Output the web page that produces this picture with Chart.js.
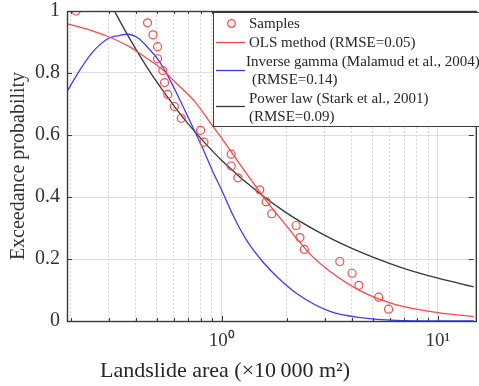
<!DOCTYPE html>
<html>
<head>
<meta charset="utf-8">
<script src="https://cdn.jsdelivr.net/npm/chart.js@4.4.1/dist/chart.umd.min.js"></script>
<style>
  html, body { margin: 0; padding: 0; background: #fff; }
</style>
</head>
<body>
<canvas id="ccdfChart" width="479" height="386"></canvas>
<script>
// landslide area (x 10 000 m2) and exceedance probability of the samples
const sampleArea = [0.212, 0.454, 0.481, 0.505, 0.505, 0.534, 0.544, 0.563, 0.604, 0.650, 0.798, 0.828, 1.106,
                    1.106, 1.187, 1.50, 1.605, 1.703, 2.207, 2.30, 2.41, 3.516, 4.007, 4.31, 5.32, 5.91];
const sampleProb = [1.000, 0.962, 0.923, 0.885, 0.846, 0.808, 0.769, 0.731, 0.692, 0.654, 0.615, 0.577, 0.538,
                    0.500, 0.462, 0.423, 0.385, 0.346, 0.308, 0.269, 0.231, 0.192, 0.154, 0.115, 0.077, 0.038];

// fitted curves
const olsArea = [0.19, 0.25, 0.30, 0.374, 0.42, 0.53, 0.61, 0.753, 0.912, 1.0, 1.088, 1.295, 1.598, 1.972, 2.23, 2.61, 3.17, 4.5, 6.38, 10, 14.7];
const olsProb = [0.960, 0.937, 0.917, 0.885, 0.862, 0.812, 0.770, 0.707, 0.627, 0.590, 0.553, 0.478, 0.390, 0.311, 0.265, 0.210, 0.160, 0.093, 0.053, 0.027, 0.014];

const gammaArea = [0.19, 0.221, 0.254, 0.30, 0.33, 0.367, 0.41, 0.461, 0.512, 0.569, 0.654, 0.727, 0.807, 0.912, 1.0, 1.126, 1.318, 1.544, 1.807, 2.23, 3.17, 4.5, 6.4, 10, 14.7];
const gammaProb = [0.733, 0.810, 0.869, 0.912, 0.920, 0.925, 0.913, 0.878, 0.840, 0.785, 0.700, 0.632, 0.565, 0.480, 0.422, 0.342, 0.255, 0.192, 0.142, 0.088, 0.031, 0.010, 0.002, 0.0003, 0.0];

const powerArea = [0.319, 0.35, 0.4, 0.45, 0.5, 0.6, 0.7, 0.8, 1, 1.5, 2, 3, 4, 5, 7, 10, 14.7];
const powerProb = [1.000, 0.948, 0.878, 0.820, 0.772, 0.695, 0.636, 0.589, 0.518, 0.411, 0.348, 0.276, 0.234, 0.206, 0.169, 0.138, 0.110];

// axis ticks
const xTicks = [0.2, 0.3, 0.4, 0.5, 0.6, 0.7, 0.8, 0.9, 1, 2, 3, 4, 5, 6, 7, 8, 9, 10];
const xMajor = [1, 10];
const yTicks = [0, 0.2, 0.4, 0.6, 0.8, 1];
const yLabels = ['0', '0.2', '0.4', '0.6', '0.8', '1'];

const serif = '"Liberation Serif", "Times New Roman", serif';
const axisColor = '#3a3a3a';
const red = 'rgb(255, 70, 70)';
const blue = 'rgb(60, 60, 255)';
const black = 'rgb(55, 55, 55)';

function pairs(xs, ys) {
    return xs.map((x, i) => ({ x: x, y: ys[i] }));
}

function line(ctx, x1, y1, x2, y2) {
    ctx.beginPath();
    ctx.moveTo(x1, y1);
    ctx.lineTo(x2, y2);
    ctx.stroke();
}

// box round the axes with inward ticks, like matlab
const framePlugin = {
    id: 'frame',
    afterDatasetsDraw(chart) {
        const ctx = chart.ctx;
        const { left, right, top, bottom } = chart.chartArea;
        const xs = chart.scales.x, ys = chart.scales.y;
        ctx.save();
        ctx.strokeStyle = axisColor;
        ctx.lineWidth = 1;
        xTicks.forEach(v => {
            const px = Math.round(xs.getPixelForValue(v)) + 0.5;
            const len = xMajor.includes(v) ? 5 : 3;
            line(ctx, px, bottom, px, bottom - len);
            line(ctx, px, top, px, top + len);
        });
        yTicks.forEach(v => {
            const py = Math.round(ys.getPixelForValue(v)) + 0.5;
            line(ctx, left, py, left + 5, py);
            line(ctx, right, py, right - 5, py);
        });
        ctx.lineWidth = 1.4;
        ctx.strokeRect(left + 0.5, top + 0.5, right - left + 2, bottom - top);
        ctx.restore();
    }
};

// legend box in the upper right corner
const legendPlugin = {
    id: 'legendBox',
    afterDraw(chart) {
        const ctx = chart.ctx;
        ctx.save();
        ctx.fillStyle = '#fff';
        ctx.fillRect(213, 12, 270, 114);
        ctx.strokeStyle = axisColor;
        ctx.lineWidth = 1;
        ctx.strokeRect(213.5, 12.5, 270, 114);

        ctx.lineWidth = 1.3;
        ctx.strokeStyle = red;
        ctx.beginPath();
        ctx.arc(231.5, 23.5, 3.8, 0, Math.PI * 2);
        ctx.stroke();
        line(ctx, 216, 42.5, 245, 42.5);
        ctx.strokeStyle = blue;
        line(ctx, 216, 70.5, 245, 70.5);
        ctx.strokeStyle = black;
        line(ctx, 216, 106.5, 245, 106.5);

        ctx.fillStyle = '#262626';
        ctx.font = '15px ' + serif;
        ctx.textBaseline = 'middle';
        ctx.textAlign = 'left';
        ctx.fillText('Samples', 249, 24);
        ctx.fillText('OLS method (RMSE=0.05)', 249, 43);
        ctx.fillText('Inverse gamma (Malamud et al., 2004)', 246, 62);
        ctx.fillText('(RMSE=0.14)', 252, 80);
        ctx.fillText('Power law (Stark et al., 2001)', 249, 99);
        ctx.fillText('(RMSE=0.09)', 249, 117);

        // x axis title sits left of centre in the original
        ctx.font = '22px ' + serif;
        ctx.textAlign = 'center';
        ctx.textBaseline = 'alphabetic';
        ctx.fillText('Landslide area (\u00d710\u2009000 m\u00b2)', 225, 377);
        ctx.restore();
    }
};

const ctx = document.getElementById('ccdfChart').getContext('2d');

new Chart(ctx, {
    type: 'line',
    data: {
        datasets: [
            {
                label: 'Samples',
                data: pairs(sampleArea, sampleProb),
                showLine: false,
                pointStyle: 'circle',
                pointRadius: 4,
                pointBorderWidth: 1.2,
                pointBorderColor: red,
                pointBackgroundColor: 'rgba(0,0,0,0)',
                order: 0
            },
            {
                label: 'OLS method (RMSE=0.05)',
                data: pairs(olsArea, olsProb),
                borderColor: red,
                borderWidth: 1.3,
                pointRadius: 0,
                cubicInterpolationMode: 'monotone',
                order: 1
            },
            {
                label: 'Inverse gamma (Malamud et al., 2004)',
                data: pairs(gammaArea, gammaProb),
                borderColor: blue,
                borderWidth: 1.3,
                pointRadius: 0,
                cubicInterpolationMode: 'monotone',
                order: 2
            },
            {
                label: 'Power law (Stark et al., 2001)',
                data: pairs(powerArea, powerProb),
                borderColor: black,
                borderWidth: 1.3,
                pointRadius: 0,
                cubicInterpolationMode: 'monotone',
                order: 3
            }
        ]
    },
    options: {
        responsive: false,
        animation: false,
        layout: { padding: { top: 11, right: 0, left: 0, bottom: 0 } },
        plugins: {
            legend: { display: false },
            tooltip: { enabled: false }
        },
        scales: {
            x: {
                type: 'logarithmic',
                min: 0.1925,
                max: 14.65,
                afterBuildTicks: function (scale) {
                    scale.ticks = xTicks.map(v => ({ value: v, major: xMajor.includes(v) }));
                },
                afterFit: function (scale) {
                    scale.height = 65;
                    scale.paddingLeft = 0;
                    scale.paddingRight = 0;
                },
                grid: {
                    drawTicks: false,
                    color: function (c) {
                        return c.tick && xMajor.includes(c.tick.value) ? '#dcdcdc' : '#d6d6d6';
                    },
                    lineWidth: 1
                },
                border: {
                    display: false,
                    dash: function (c) {
                        return c.tick && !xMajor.includes(c.tick.value) ? [2, 2] : [];
                    }
                },
                ticks: {
                    autoSkip: false,
                    maxRotation: 0,
                    padding: 9,
                    color: '#333',
                    font: { family: serif, size: 19 },
                    callback: function (value) {
                        if (value === 1) return '10\u2070';
                        if (value === 10) return '10\u00b9';
                        return '';
                    }
                }
            },
            y: {
                min: 0,
                max: 1,
                afterBuildTicks: function (scale) {
                    scale.ticks = yTicks.map(v => ({ value: v }));
                },
                afterFit: function (scale) {
                    scale.width = 67;
                    scale.paddingTop = 0;
                    scale.paddingBottom = 0;
                },
                grid: {
                    drawTicks: false,
                    color: function (c) {
                        return c.tick && (c.tick.value === 0 || c.tick.value === 1) ? 'rgba(0,0,0,0)' : '#dedede';
                    }
                },
                border: { display: false },
                ticks: {
                    padding: 7,
                    color: '#333',
                    font: { family: serif, size: 20 },
                    callback: function (value, index) {
                        return yLabels[index];
                    }
                },
                title: {
                    display: true,
                    text: 'Exceedance probability',
                    color: '#333',
                    padding: { top: 7, bottom: 0 },
                    font: { family: serif, size: 20 }
                }
            }
        }
    },
    plugins: [framePlugin, legendPlugin]
});
</script>
</body>
</html>
